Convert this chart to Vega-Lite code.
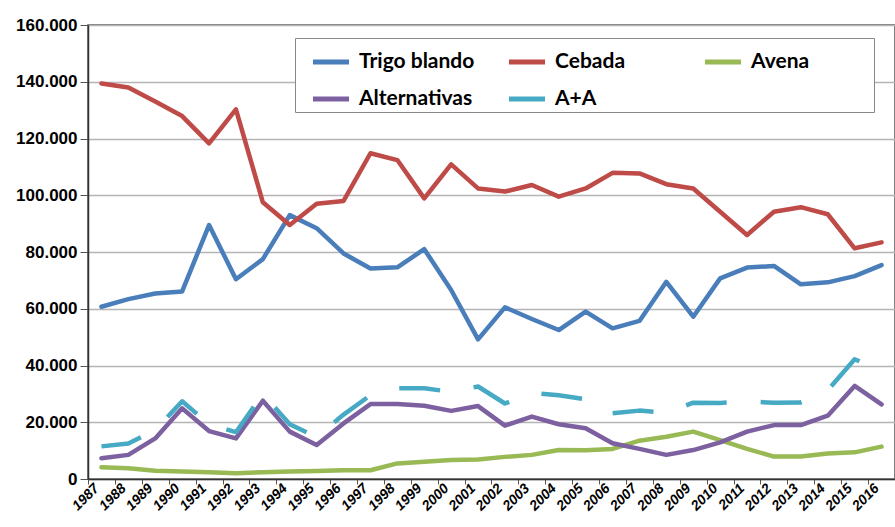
{
  "$schema": "https://vega.github.io/schema/vega-lite/v6.json",
  "width": 807,
  "height": 454,
  "autosize": "none",
  "padding": {"left": 88, "top": 25, "right": 0, "bottom": 48},
  "background": "white",
  "data": {
    "values": [
      {"year":"1987","serie":"Trigo blando","value":60700},{"year":"1988","serie":"Trigo blando","value":63400},{"year":"1989","serie":"Trigo blando","value":65400},{"year":"1990","serie":"Trigo blando","value":66100},{"year":"1991","serie":"Trigo blando","value":89500},{"year":"1992","serie":"Trigo blando","value":70400},{"year":"1993","serie":"Trigo blando","value":77500},{"year":"1994","serie":"Trigo blando","value":93000},{"year":"1995","serie":"Trigo blando","value":88400},{"year":"1996","serie":"Trigo blando","value":79500},{"year":"1997","serie":"Trigo blando","value":74200},{"year":"1998","serie":"Trigo blando","value":74600},{"year":"1999","serie":"Trigo blando","value":81000},{"year":"2000","serie":"Trigo blando","value":66600},{"year":"2001","serie":"Trigo blando","value":49200},{"year":"2002","serie":"Trigo blando","value":60500},{"year":"2003","serie":"Trigo blando","value":56400},{"year":"2004","serie":"Trigo blando","value":52500},{"year":"2005","serie":"Trigo blando","value":59000},{"year":"2006","serie":"Trigo blando","value":53100},{"year":"2007","serie":"Trigo blando","value":55700},{"year":"2008","serie":"Trigo blando","value":69500},{"year":"2009","serie":"Trigo blando","value":57200},{"year":"2010","serie":"Trigo blando","value":70700},{"year":"2011","serie":"Trigo blando","value":74500},{"year":"2012","serie":"Trigo blando","value":75100},{"year":"2013","serie":"Trigo blando","value":68600},{"year":"2014","serie":"Trigo blando","value":69300},{"year":"2015","serie":"Trigo blando","value":71500},{"year":"2016","serie":"Trigo blando","value":75400},
      {"year":"1987","serie":"Cebada","value":139400},{"year":"1988","serie":"Cebada","value":138000},{"year":"1989","serie":"Cebada","value":133000},{"year":"1990","serie":"Cebada","value":127900},{"year":"1991","serie":"Cebada","value":118300},{"year":"1992","serie":"Cebada","value":130300},{"year":"1993","serie":"Cebada","value":97500},{"year":"1994","serie":"Cebada","value":89500},{"year":"1995","serie":"Cebada","value":97000},{"year":"1996","serie":"Cebada","value":98000},{"year":"1997","serie":"Cebada","value":114800},{"year":"1998","serie":"Cebada","value":112400},{"year":"1999","serie":"Cebada","value":98900},{"year":"2000","serie":"Cebada","value":110900},{"year":"2001","serie":"Cebada","value":102400},{"year":"2002","serie":"Cebada","value":101300},{"year":"2003","serie":"Cebada","value":103600},{"year":"2004","serie":"Cebada","value":99500},{"year":"2005","serie":"Cebada","value":102400},{"year":"2006","serie":"Cebada","value":107900},{"year":"2007","serie":"Cebada","value":107700},{"year":"2008","serie":"Cebada","value":103900},{"year":"2009","serie":"Cebada","value":102400},{"year":"2010","serie":"Cebada","value":94200},{"year":"2011","serie":"Cebada","value":86000},{"year":"2012","serie":"Cebada","value":94200},{"year":"2013","serie":"Cebada","value":95800},{"year":"2014","serie":"Cebada","value":93300},{"year":"2015","serie":"Cebada","value":81300},{"year":"2016","serie":"Cebada","value":83400},
      {"year":"1987","serie":"Avena","value":4100},{"year":"1988","serie":"Avena","value":3800},{"year":"1989","serie":"Avena","value":2900},{"year":"1990","serie":"Avena","value":2600},{"year":"1991","serie":"Avena","value":2400},{"year":"1992","serie":"Avena","value":2000},{"year":"1993","serie":"Avena","value":2400},{"year":"1994","serie":"Avena","value":2600},{"year":"1995","serie":"Avena","value":2800},{"year":"1996","serie":"Avena","value":3100},{"year":"1997","serie":"Avena","value":3100},{"year":"1998","serie":"Avena","value":5500},{"year":"1999","serie":"Avena","value":6100},{"year":"2000","serie":"Avena","value":6700},{"year":"2001","serie":"Avena","value":6900},{"year":"2002","serie":"Avena","value":7800},{"year":"2003","serie":"Avena","value":8500},{"year":"2004","serie":"Avena","value":10200},{"year":"2005","serie":"Avena","value":10100},{"year":"2006","serie":"Avena","value":10600},{"year":"2007","serie":"Avena","value":13500},{"year":"2008","serie":"Avena","value":14900},{"year":"2009","serie":"Avena","value":16700},{"year":"2010","serie":"Avena","value":13700},{"year":"2011","serie":"Avena","value":10600},{"year":"2012","serie":"Avena","value":7900},{"year":"2013","serie":"Avena","value":7900},{"year":"2014","serie":"Avena","value":9000},{"year":"2015","serie":"Avena","value":9400},{"year":"2016","serie":"Avena","value":11400},
      {"year":"1987","serie":"Alternativas","value":7300},{"year":"1988","serie":"Alternativas","value":8500},{"year":"1989","serie":"Alternativas","value":14300},{"year":"1990","serie":"Alternativas","value":24900},{"year":"1991","serie":"Alternativas","value":16900},{"year":"1992","serie":"Alternativas","value":14300},{"year":"1993","serie":"Alternativas","value":27600},{"year":"1994","serie":"Alternativas","value":16700},{"year":"1995","serie":"Alternativas","value":12000},{"year":"1996","serie":"Alternativas","value":19600},{"year":"1997","serie":"Alternativas","value":26400},{"year":"1998","serie":"Alternativas","value":26400},{"year":"1999","serie":"Alternativas","value":25800},{"year":"2000","serie":"Alternativas","value":24000},{"year":"2001","serie":"Alternativas","value":25700},{"year":"2002","serie":"Alternativas","value":18800},{"year":"2003","serie":"Alternativas","value":22000},{"year":"2004","serie":"Alternativas","value":19300},{"year":"2005","serie":"Alternativas","value":17900},{"year":"2006","serie":"Alternativas","value":12600},{"year":"2007","serie":"Alternativas","value":10600},{"year":"2008","serie":"Alternativas","value":8500},{"year":"2009","serie":"Alternativas","value":10200},{"year":"2010","serie":"Alternativas","value":12900},{"year":"2011","serie":"Alternativas","value":16700},{"year":"2012","serie":"Alternativas","value":19000},{"year":"2013","serie":"Alternativas","value":19000},{"year":"2014","serie":"Alternativas","value":22300},{"year":"2015","serie":"Alternativas","value":32800},{"year":"2016","serie":"Alternativas","value":26300},
      {"year":"1987","serie":"A+A","value":11500},{"year":"1988","serie":"A+A","value":12500},{"year":"1989","serie":"A+A","value":17200},{"year":"1990","serie":"A+A","value":27400},{"year":"1991","serie":"A+A","value":19300},{"year":"1992","serie":"A+A","value":16500},{"year":"1993","serie":"A+A","value":30000},{"year":"1994","serie":"A+A","value":19300},{"year":"1995","serie":"A+A","value":14800},{"year":"1996","serie":"A+A","value":22700},{"year":"1997","serie":"A+A","value":29500},{"year":"1998","serie":"A+A","value":32000},{"year":"1999","serie":"A+A","value":32000},{"year":"2000","serie":"A+A","value":30700},{"year":"2001","serie":"A+A","value":32600},{"year":"2002","serie":"A+A","value":26600},{"year":"2003","serie":"A+A","value":30400},{"year":"2004","serie":"A+A","value":29500},{"year":"2005","serie":"A+A","value":28100},{"year":"2006","serie":"A+A","value":23200},{"year":"2007","serie":"A+A","value":24100},{"year":"2008","serie":"A+A","value":23400},{"year":"2009","serie":"A+A","value":26900},{"year":"2010","serie":"A+A","value":26800},{"year":"2011","serie":"A+A","value":27300},{"year":"2012","serie":"A+A","value":26900},{"year":"2013","serie":"A+A","value":27000},{"year":"2014","serie":"A+A","value":31300},{"year":"2015","serie":"A+A","value":42200},{"year":"2016","serie":"A+A","value":38300}
    ]
  },
  "encoding": {
    "x": {
      "field": "year", "type": "ordinal", "bandPosition": 0.5,
      "scale": {"type": "band", "paddingInner": 0, "paddingOuter": 0},
      "axis": {
        "title": null, "tickBand": "extent", "labelAngle": -45, "labelAlign": "right", "labelBaseline": "middle",
        "labelOverlap": false,
        "labelFont": "Liberation Sans", "labelFontWeight": "bold", "labelFontStyle": "italic", "labelFontSize": 14,
        "labelColor": "black", "labelOffset": -5, "labelPadding": 2, "tickSize": 5, "tickColor": "#555",
        "domainColor": "#333", "domainWidth": 1.5, "grid": false
      }
    },
    "y": {
      "field": "value", "type": "quantitative",
      "scale": {"domain": [0, 160000], "nice": false},
      "axis": {
        "title": null, "values": [0,20000,40000,60000,80000,100000,120000,140000,160000],
        "labelExpr": "replace(format(datum.value, ','), ',', '.')",
        "labelFont": "Liberation Sans", "labelFontWeight": "bold", "labelFontSize": 17, "labelColor": "black",
        "labelPadding": 3, "tickSize": 8, "tickColor": "#555", "domainColor": "#333", "domainWidth": 1.5,
        "gridColor": "#B5B5B5", "gridWidth": 1.3
      }
    },
    "color": {
      "field": "serie", "type": "nominal",
      "scale": {
        "domain": ["Trigo blando", "Alternativas", "Cebada", "A+A", "Avena"],
        "range": ["#4A7EBB", "#7D60A0", "#BE4B48", "#46AAC5", "#98B954"]
      },
      "legend": {
        "title": null, "orient": "none", "legendX": 207, "legendY": 13, "columns": 3,
        "symbolType": "stroke", "symbolSize": 1300, "symbolStrokeWidth": 5,
        "labelFont": "Lato", "labelFontWeight": "bold", "labelFontSize": 21, "labelColor": "black",
        "labelExpr": "datum.label === 'Avena' ? 'Avena\u00a0\u00a0\u00a0\u00a0\u00a0\u00a0\u00a0\u00a0\u00a0\u00a0\u00a0\u00a0\u200b' : datum.label",
        "labelOffset": 7, "padding": 3, "rowPadding": 6, "columnPadding": 15, "gridAlign": "all",
        "strokeColor": "#888", "fillColor": "white", "symbolOffset": 12
      }
    }
  },
  "layer": [
    {
      "transform": [{"filter": "datum.serie !== 'A+A'"}],
      "mark": {"type": "line", "strokeWidth": 4.5, "strokeCap": "round", "strokeJoin": "round"}
    },
    {
      "transform": [{"filter": "datum.serie === 'A+A'"}],
      "mark": {"type": "line", "strokeWidth": 4.5, "strokeDash": [41, 34], "strokeCap": "butt", "strokeJoin": "round"}
    }
  ],
  "config": {
    "view": {"stroke": "#555", "strokeWidth": 1.5}
  }
}
